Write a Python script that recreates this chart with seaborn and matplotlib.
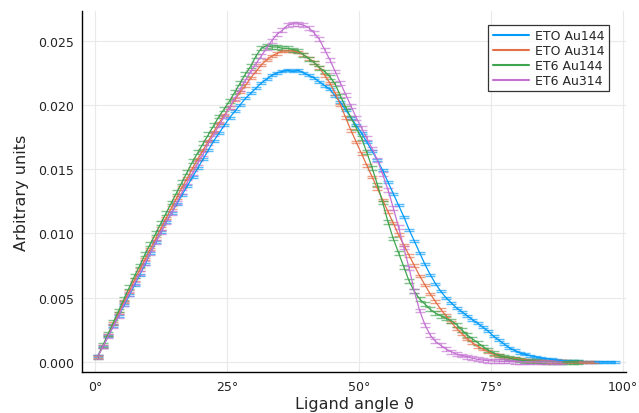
import numpy as np
import pandas as pd
import matplotlib
matplotlib.use("Agg")
import matplotlib.pyplot as plt
import seaborn as sns

# Histogram of ligand angles, 1 degree bins (bin centres 0.5, 1.5, ...)
eto_au144 = [0.00045, 0.0012, 0.0020, 0.0028, 0.0036, 0.0044, 0.0052, 0.0060, 0.0068, 0.0076,
             0.0085, 0.0093, 0.0101, 0.0109, 0.0116, 0.0123, 0.0130, 0.0137, 0.0144, 0.0151,
             0.0158, 0.0165, 0.0172, 0.0178, 0.0184, 0.0190, 0.0195, 0.0200, 0.0205, 0.0209,
             0.0213, 0.0217, 0.0220, 0.0223, 0.0225, 0.0226, 0.0227, 0.0226, 0.0227, 0.0225,
             0.0223, 0.0221, 0.0218, 0.0215, 0.0212, 0.0207, 0.0202, 0.0196, 0.0190, 0.0184,
             0.0178, 0.0171, 0.0164, 0.0157, 0.0149, 0.0140, 0.0131, 0.0122, 0.0113, 0.0103,
             0.0094, 0.0085, 0.0076, 0.0068, 0.0061, 0.0055, 0.0050, 0.0046, 0.0042, 0.0039,
             0.0036, 0.0033, 0.0030, 0.0027, 0.0024, 0.0020, 0.0017, 0.0014, 0.0011, 0.0009,
             0.0007, 0.0006, 0.0005, 0.0004, 0.0003, 0.00025, 0.0002, 0.00015, 0.0001, 0.00008,
             0.00006, 0.00004, 0.00003, 0.00002, 0.00001, 0.00001, 0.0, 0.0, 0.0]

eto_au314 = [0.0004, 0.0012, 0.0021, 0.0030, 0.0038, 0.0047, 0.0055, 0.0064, 0.0072, 0.0080,
             0.0088, 0.0096, 0.0104, 0.0112, 0.0120, 0.0128, 0.0136, 0.0143, 0.0151, 0.0158,
             0.0165, 0.0172, 0.0179, 0.0186, 0.0192, 0.0198, 0.0204, 0.0210, 0.0215, 0.0221,
             0.0226, 0.0231, 0.0235, 0.0238, 0.0240, 0.0242, 0.0242, 0.0242, 0.0241, 0.0239,
             0.0236, 0.0233, 0.0229, 0.0223, 0.0217, 0.0209, 0.0200, 0.0190, 0.0180, 0.0171,
             0.0162, 0.0153, 0.0144, 0.0135, 0.0126, 0.0117, 0.0108, 0.0099, 0.0091, 0.0083,
             0.0075, 0.0067, 0.0060, 0.0053, 0.0047, 0.0041, 0.0036, 0.0031, 0.0026, 0.0022,
             0.0018, 0.0015, 0.0012, 0.0010, 0.0008, 0.0006, 0.0005, 0.0004, 0.0003, 0.00025,
             0.0002, 0.00015, 0.0001, 0.00008, 0.00006, 0.00005, 0.00004, 0.00003, 0.00002, 0.00002,
             0.00001, 0.00001, 0.0, 0.0, 0.0]

et6_au144 = [0.0004, 0.0013, 0.0022, 0.0031, 0.0040, 0.0049, 0.0058, 0.0067, 0.0075, 0.0084,
             0.0092, 0.0100, 0.0108, 0.0116, 0.0124, 0.0132, 0.0140, 0.0148, 0.0156, 0.0163,
             0.0170, 0.0177, 0.0184, 0.0191, 0.0197, 0.0203, 0.0210, 0.0217, 0.0224, 0.0230,
             0.0238, 0.0244, 0.0246, 0.0245, 0.0245, 0.0244, 0.0244, 0.0243, 0.0242, 0.0239,
             0.0236, 0.0233, 0.0229, 0.0226, 0.0222, 0.0216, 0.0207, 0.0198, 0.0190, 0.0182,
             0.0174, 0.0163, 0.0151, 0.0138, 0.0124, 0.0109, 0.0096, 0.0085, 0.0074, 0.0063,
             0.0055, 0.0049, 0.0045, 0.0041, 0.0038, 0.0036, 0.0034, 0.0032, 0.0029, 0.0025,
             0.0021, 0.0018, 0.0015, 0.0012, 0.0009, 0.0007, 0.0005, 0.0004, 0.0003, 0.0002,
             0.00015, 0.0001, 0.00008, 0.00006, 0.00004, 0.00003, 0.00002, 0.00002, 0.00001, 0.00001,
             0.0, 0.0]

et6_au314 = [0.0004, 0.0012, 0.0020, 0.0028, 0.0036, 0.0045, 0.0053, 0.0061, 0.0069, 0.0077,
             0.0085, 0.0093, 0.0101, 0.0109, 0.0116, 0.0124, 0.0132, 0.0140, 0.0147, 0.0155,
             0.0162, 0.0170, 0.0177, 0.0184, 0.0191, 0.0198, 0.0205, 0.0212, 0.0219, 0.0226,
             0.0232, 0.0238, 0.0244, 0.0250, 0.0255, 0.0258, 0.0262, 0.0263, 0.0263, 0.0262,
             0.0260, 0.0256, 0.0251, 0.0243, 0.0235, 0.0226, 0.0217, 0.0208, 0.0199, 0.0190,
             0.0182, 0.0174, 0.0166, 0.0157, 0.0146, 0.0134, 0.0120, 0.0105, 0.0089, 0.0073,
             0.0055, 0.0040, 0.0029, 0.0021, 0.0016, 0.0013, 0.0010, 0.0008, 0.0006, 0.0005,
             0.0004, 0.0003, 0.0002, 0.00015, 0.0001, 0.00008, 0.00006, 0.00005, 0.00004, 0.00003,
             0.00002, 0.00002, 0.00001, 0.00001, 0.00001, 0.0, 0.0, 0.0, 0.0]

# rough error bar half-heights per series
errors = {"ETO Au144": 0.00008, "ETO Au314": 0.0001, "ET6 Au144": 0.00015, "ET6 Au314": 0.00015}
series = {"ETO Au144": eto_au144, "ETO Au314": eto_au314,
          "ET6 Au144": et6_au144, "ET6 Au314": et6_au314}
colors = ["#009AFA", "#E36F47", "#3EA44E", "#C371D2"]
x_ticks = [0, 25, 50, 75, 100]
y_ticks = [0.0, 0.005, 0.010, 0.015, 0.020, 0.025]

# long format table for seaborn
frames = []
for name, vals in series.items():
    frames.append(pd.DataFrame({"angle": np.arange(len(vals)) + 0.5,
                                "value": vals, "system": name}))
df = pd.concat(frames, ignore_index=True)

sns.set_style("white")
plt.rcParams["font.family"] = ["DejaVu Sans"]

fig = plt.figure(figsize=(6.39, 4.14), dpi=100)
ax = fig.add_axes([0.1283, 0.099, 0.8514, 0.872])

sns.lineplot(data=df, x="angle", y="value", hue="system", palette=colors,
             linewidth=0.9, ax=ax, zorder=3)

# error bar caps
for (name, vals), c in zip(series.items(), colors):
    xs = np.arange(len(vals)) + 0.5
    ax.errorbar(xs, vals, yerr=errors[name], fmt="none", ecolor=c, elinewidth=0.7,
                capsize=3.3, capthick=1.0, alpha=0.65, zorder=2)

ax.set_xlim(-2.46, 100.6)
ax.set_ylim(-0.00078, 0.0273)
ax.set_xticks(x_ticks)
ax.set_xticklabels([f"{t}°" for t in x_ticks])
ax.set_yticks(y_ticks)
ax.set_yticklabels([f"{t:.3f}" for t in y_ticks])
ax.grid(True, color="#e9e9e9", linewidth=0.8)
ax.set_axisbelow(True)

for s in ["top", "right"]:
    ax.spines[s].set_visible(False)
for s in ["left", "bottom"]:
    ax.spines[s].set_color("black")
    ax.spines[s].set_linewidth(1.0)
ax.tick_params(direction="in", length=4, width=1, color="black",
               labelsize=9, labelcolor="#222222", pad=6)

ax.set_xlabel("Ligand angle ϑ", fontsize=11.5, labelpad=2)
ax.set_ylabel("Arbitrary units", fontsize=11.5, labelpad=6)

leg = ax.legend(loc="upper right", bbox_to_anchor=(0.969, 0.961), borderaxespad=0,
                fontsize=9, frameon=True, fancybox=False, handlelength=2.9,
                labelspacing=0.15, handletextpad=0.5, borderpad=0.35)
leg.get_frame().set_edgecolor("black")
leg.get_frame().set_linewidth(0.9)
for line in leg.get_lines():
    line.set_linewidth(1.5)

fig.savefig("out.png", dpi=100)
